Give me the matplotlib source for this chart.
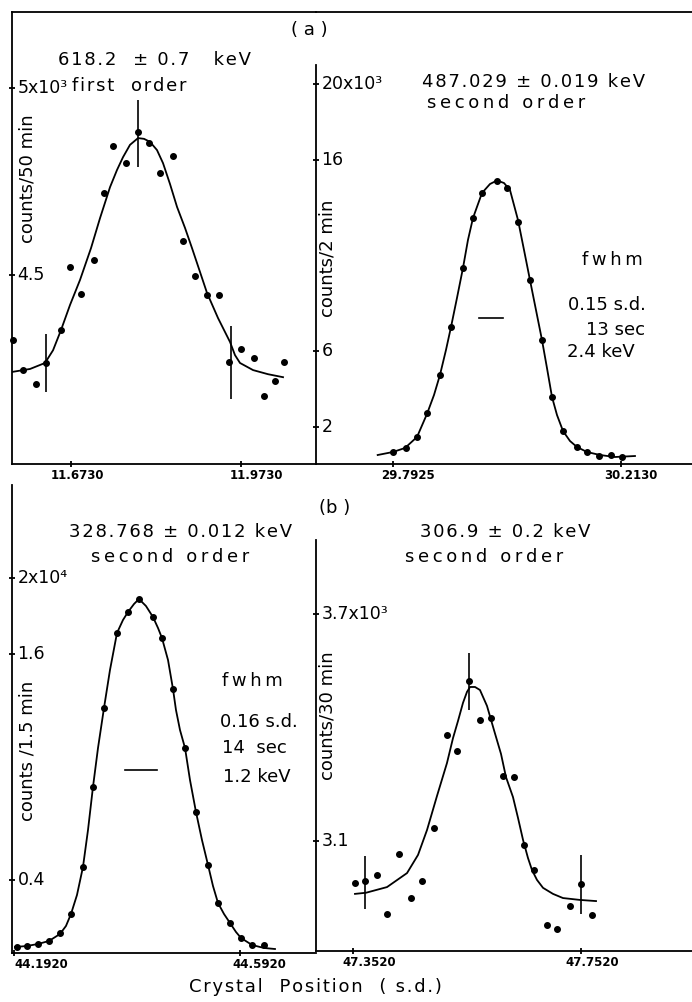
import matplotlib.pyplot as plt

plt.rcParams['font.family'] = ['DejaVu Sans']

W, H = 692, 1002  # figure size in pixels

# ---- (a) left panel: 618.2 keV, first order, counts / 50 min
a1_x = [11.5725, 11.5901, 11.6124, 11.6300, 11.6563, 11.6721, 11.6914, 11.7143,
        11.7318, 11.7482, 11.7705, 11.7921, 11.8109, 11.8297, 11.8525, 11.8701,
        11.8917, 11.9133, 11.9333, 11.9519, 11.9730, 11.9953, 12.0129, 12.0327,
        12.0485]
a1_y = [4326, 4246, 4208, 4265, 4353, 4522, 4449, 4540, 4720, 4846, 4799, 4882,
        4852, 4772, 4819, 4591, 4498, 4448, 4448, 4268, 4302, 4279, 4177, 4216,
        4267]
a1_fit_x = [11.5702, 11.6019, 11.6282, 11.6423, 11.6563, 11.6721, 11.6897, 11.7090,
            11.7248, 11.7424, 11.7547, 11.7652, 11.7775, 11.7916, 11.8021, 11.8126,
            11.8249, 11.8355, 11.8478, 11.8601, 11.8741, 11.8864, 11.9005, 11.9128,
            11.9321, 11.9532, 11.9619, 11.9707, 11.9936, 12.0199, 12.0463]
a1_fit_y = [4241, 4249, 4265, 4299, 4353, 4420, 4487, 4572, 4652, 4735, 4781, 4815,
            4848, 4866, 4864, 4856, 4834, 4799, 4743, 4682, 4626, 4572, 4508, 4452,
            4385, 4321, 4286, 4265, 4246, 4235, 4227]
a1_err_x = [11.6300, 11.7921, 11.9546]
a1_err_y = [4265, 4878, 4266]
a1_err = [78, 90, 98]
a1_xticks = [11.6730, 11.9730]
a1_xlabels = ['11.6730', '11.9730']
a1_yticks = [4500, 5000]
a1_ylabels = ['4.5', '5x10³']

# ---- (a) right panel: 487.029 keV, second order, counts / 2 min
a2_x = [29.7925, 29.8154, 29.8357, 29.8553, 29.8787, 29.8985, 29.9207, 29.9391,
        29.9569, 29.9840, 30.0025, 30.0233, 30.0449, 30.0666, 30.0861, 30.1064,
        30.1312, 30.1508, 30.1729, 30.1945, 30.2143]
a2_y = [652, 862, 1472, 2703, 4716, 7224, 10326, 12955, 14301, 14916, 14564, 12776,
        9711, 6556, 3575, 1788, 915, 652, 457, 510, 389]
a2_fit_x = [29.7637, 29.7919, 29.8141, 29.8363, 29.8547, 29.8677, 29.8787, 29.8898,
            29.8991, 29.9101, 29.9212, 29.9304, 29.9397, 29.9563, 29.9711, 29.9840,
            29.9969, 30.0080, 30.0228, 30.0339, 30.0449, 30.0560, 30.0671, 30.0763,
            30.0856, 30.0948, 30.1059, 30.1188, 30.1317, 30.1502, 30.1742, 30.2019,
            30.2388]
a2_fit_y = [510, 668, 878, 1456, 2666, 3665, 4716, 6031, 7240, 8764, 10342, 11814,
            12971, 14285, 14758, 14942, 14811, 14443, 12865, 11288, 9711, 8134, 6556,
            5084, 3559, 2613, 1772, 1246, 931, 668, 510, 405, 457]
a2_fwhm_x = [29.9508, 29.9956]
a2_fwhm_y = 7730
a2_xticks = [29.7925, 30.2130]
a2_xlabels = ['29.7925', '30.2130']
a2_yticks = [2000, 6000, 16000, 20000]
a2_ylabels = ['2', '6', '16', '20x10³']

# ---- (b) left panel: 328.768 keV, second order, counts / 1.5 min
b1_x = [44.1968, 44.2155, 44.2350, 44.2545, 44.2734, 44.2924, 44.3147, 44.3313,
        44.3518, 44.3738, 44.3943, 44.4138, 44.4375, 44.4545, 44.4729, 44.4947,
        44.5141, 44.5359, 44.5536, 44.5743, 44.5932, 44.6127, 44.6345]
b1_y = [467, 505, 611, 785, 1178, 2185, 4709, 8919, 13107, 17116, 18229, 18887,
        17964, 16819, 14131, 10987, 7625, 4799, 2768, 1740, 913, 558, 558]
b1_fit_x = [44.1938, 44.2150, 44.2345, 44.2539, 44.2734, 44.2840, 44.2929, 44.3035,
            44.3141, 44.3230, 44.3318, 44.3407, 44.3513, 44.3619, 44.3743, 44.3849,
            44.3938, 44.4044, 44.4132, 44.4256, 44.4380, 44.4469, 44.4539, 44.4646,
            44.4734, 44.4787, 44.4858, 44.4947, 44.5035, 44.5141, 44.5247, 44.5354,
            44.5442, 44.5531, 44.5637, 44.5743, 44.5849, 44.5938, 44.6133, 44.6345,
            44.6539]
b1_fit_y = [451, 505, 611, 770, 1141, 1565, 2201, 3209, 4693, 6655, 8935, 11002,
            13123, 15138, 17100, 17789, 18213, 18637, 18902, 18531, 17948, 17365,
            16835, 15668, 14131, 13017, 11957, 11002, 9306, 7609, 6125, 4799, 3686,
            2784, 2201, 1724, 1247, 929, 558, 399, 345]
b1_fwhm_x = [44.3885, 44.4446]
b1_fwhm_y = 9836
b1_xticks = [44.1920, 44.5920]
b1_xlabels = ['44.1920', '44.5920']
b1_yticks = [4000, 16000, 20000]
b1_ylabels = ['0.4', '1.6', '2x10⁴']

# ---- (b) right panel: 306.9 keV, second order, counts / 30 min
b2_x = [47.3566, 47.3741, 47.3946, 47.4122, 47.4338, 47.4538, 47.4736, 47.4946,
        47.5183, 47.5346, 47.5569, 47.5762, 47.5943, 47.6153, 47.6353, 47.6525,
        47.6701, 47.6934, 47.7104, 47.7332, 47.7525, 47.7713]
b2_y = [2990, 2994, 3010, 2907, 3065, 2949, 2994, 3134, 3379, 3338, 3524, 3419,
        3426, 3272, 3270, 3089, 3022, 2878, 2867, 2929, 2986, 2904]
b2_fit_x = [47.3560, 47.3753, 47.4122, 47.4473, 47.4666, 47.4824, 47.4999, 47.5174,
            47.5280, 47.5367, 47.5455, 47.5525, 47.5578, 47.5666, 47.5753, 47.5876,
            47.5999, 47.6122, 47.6209, 47.6332, 47.6420, 47.6508, 47.6595, 47.6666,
            47.6753, 47.6859, 47.7034, 47.7209, 47.7508, 47.7789]
b2_fit_y = [2960, 2963, 2978, 3015, 3063, 3129, 3219, 3306, 3372, 3417, 3465, 3494,
            3507, 3507, 3499, 3457, 3393, 3330, 3269, 3216, 3161, 3103, 3055, 3023,
            2997, 2976, 2960, 2949, 2944, 2941]
b2_err_x = [47.3741, 47.5569, 47.7534]
b2_err_y = [2990, 3521, 2984]
b2_err = [70, 76, 78]
b2_xticks = [47.3520, 47.7520]
b2_xlabels = ['47.3520', '47.7520']
b2_yticks = [3100, 3700]
b2_ylabels = ['3.1', '3.7x10³']

fig = plt.figure(figsize=(W / 100, H / 100), dpi=100)

THIN = '\u2009'
HAIR = '\u200a'


def spread(s, sp=THIN):
    # the scanned lettering is widely spaced
    return sp.join(s)


def place(x0, y0, x1, y1):
    return fig.add_axes([x0 / W, 1 - y1 / H, (x1 - x0) / W, (y1 - y0) / H])


def ftext(px, py, s, ha='center', size=13, **kw):
    fig.text(px / W, 1 - py / H, s, ha=ha, va='center', fontsize=size, **kw)


def panel(ax, xlim, ylim, spines, xticks, xlabels, xoffs, yticks, ylabels):
    ax.set_xlim(xlim)
    ax.set_ylim(ylim)
    ax.patch.set_alpha(0)
    for name, sp in ax.spines.items():
        sp.set_visible(name in spines)
        sp.set_linewidth(1.3)
    ax.set_xticks(xticks)
    ax.set_yticks(yticks)
    ax.tick_params(direction='inout', length=5, width=1.3, labelleft=False,
                   labelbottom=False, top=False, right=False)
    for t, lab, dx in zip(xticks, xlabels, xoffs):
        ax.annotate(lab, xy=(t, 0), xycoords=('data', 'axes fraction'),
                    xytext=(dx * 0.72, -8), textcoords='offset points',
                    ha='center', va='center', fontsize=8.5, fontweight='bold')
    for t, lab in zip(yticks, ylabels):
        ax.annotate(lab, xy=(0, t), xycoords=('axes fraction', 'data'),
                    xytext=(4, 0), textcoords='offset points',
                    ha='left', va='center', fontsize=12.5)


def draw(ax, x, y, fx, fy):
    ax.plot(fx, fy, color='black', lw=1.3)
    ax.plot(x, y, 'o', color='black', ms=4, clip_on=False)


# (a) left
ax = place(12, 12, 316, 464)
panel(ax, (11.5702, 12.1042), (3995, 5203), ['left', 'top', 'bottom'],
      a1_xticks, a1_xlabels, [7, 15], a1_yticks, a1_ylabels)
draw(ax, a1_x, a1_y, a1_fit_x, a1_fit_y)
ax.errorbar(a1_err_x, a1_err_y, yerr=a1_err, fmt='none', ecolor='black',
            elinewidth=1.2, capsize=0)

# (a) right
ax = place(316, 12, 692, 464)
panel(ax, (29.6498, 30.3441), (37, 23801), ['left', 'top', 'bottom'],
      a2_xticks, a2_xlabels, [15, 10], a2_yticks, a2_ylabels)
ax.spines['left'].set_bounds(37, 21015)
draw(ax, a2_x, a2_y, a2_fit_x, a2_fit_y)
ax.plot(a2_fwhm_x, [a2_fwhm_y, a2_fwhm_y], color='black', lw=1.2)

# (b) left
ax = place(12, 485, 316, 953)
panel(ax, (44.1885, 44.7265), (133, 24947), ['left', 'bottom'],
      b1_xticks, b1_xlabels, [27, 19], b1_yticks, b1_ylabels)
draw(ax, b1_x, b1_y, b1_fit_x, b1_fit_y)
ax.plot(b1_fwhm_x, [b1_fwhm_y, b1_fwhm_y], color='black', lw=1.2)

# (b) right
ax = place(316, 485, 692, 951)
panel(ax, (47.2876, 47.9473), (2809, 4041), ['left', 'bottom'],
      b2_xticks, b2_xlabels, [17, 12], b2_yticks, b2_ylabels)
ax.spines['left'].set_bounds(2809, 3895)
draw(ax, b2_x, b2_y, b2_fit_x, b2_fit_y)
ax.errorbar(b2_err_x, b2_err_y, yerr=b2_err, fmt='none', ecolor='black',
            elinewidth=1.2, capsize=0)

# annotations
ftext(309, 30, '( a )')
ftext(155, 60, spread('618.2  ± 0.7   keV', HAIR))
ftext(72, 86, spread('first  order', HAIR), ha='left')
ftext(534, 82, spread('487.029 ± 0.019 keV', HAIR))
ftext(506, 103, spread('second order'))
ftext(612, 260, spread('fwhm'))
ftext(568, 305, '0.15 s.d.', ha='left')
ftext(586, 330, '13 sec', ha='left')
ftext(567, 352, '2.4 keV', ha='left')
ftext(335, 508, '(b )')
ftext(181, 532, spread('328.768 ± 0.012 keV', HAIR))
ftext(170, 557, spread('second order'))
ftext(252, 681, spread('fwhm'))
ftext(220, 722, '0.16 s.d.', ha='left')
ftext(222, 748, '14  sec', ha='left')
ftext(223, 777, '1.2 keV', ha='left')
ftext(505, 532, spread('306.9 ± 0.2 keV', HAIR))
ftext(484, 557, spread('second order'))
ftext(28, 179, 'counts/50 min', rotation=90)
ftext(328, 258, 'counts/2 min', rotation=90)
ftext(27, 751, 'counts /1.5 min', rotation=90)
ftext(328, 716, 'counts/30 min', rotation=90)
ftext(315, 987, spread('Crystal  Position  ( s.d.)', HAIR))

plt.savefig('out.png', dpi=100)
